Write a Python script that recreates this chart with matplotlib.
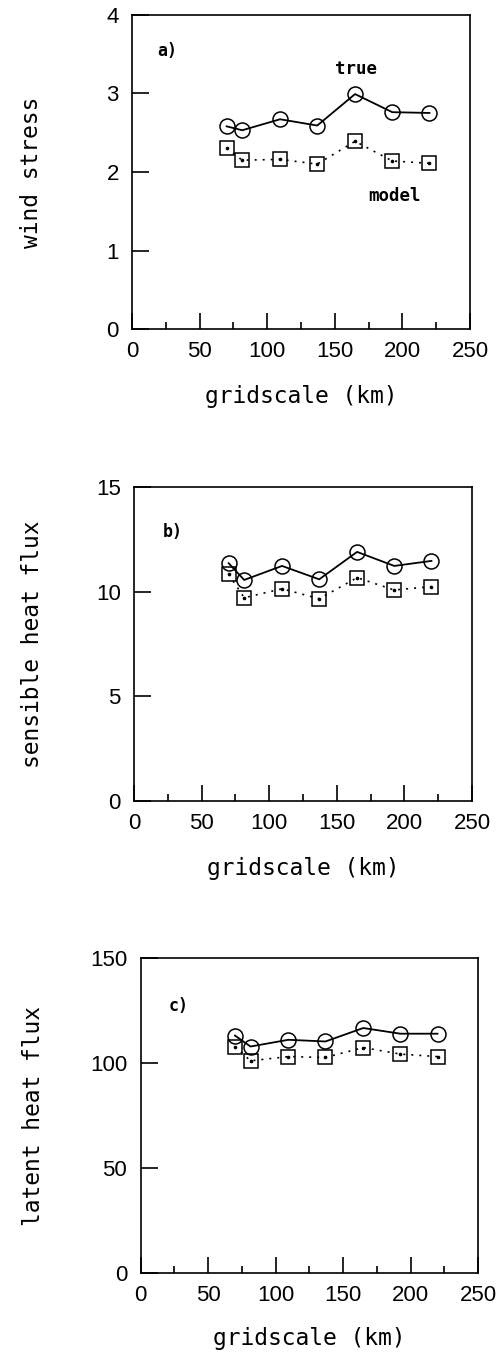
import matplotlib
matplotlib.use("Agg")
import matplotlib.pyplot as plt
from matplotlib import font_manager
from matplotlib.ticker import MultipleLocator

# ---------------- data ----------------
gridscale = [70, 81.5, 109.5, 137, 165, 192.5, 220]

wind_true = [2.58, 2.53, 2.67, 2.59, 2.99, 2.76, 2.75]
wind_model = [2.30, 2.15, 2.16, 2.10, 2.39, 2.14, 2.11]

sens_true = [11.36, 10.56, 11.23, 10.59, 11.90, 11.23, 11.47]
sens_model = [10.83, 9.71, 10.14, 9.66, 10.67, 10.08, 10.24]

lat_true = [113.1, 107.9, 111.1, 110.3, 116.7, 114.0, 114.0]
lat_model = [107.9, 101.1, 103.1, 102.7, 107.4, 104.3, 103.1]

panel_tags = ["a)", "b)", "c)"]
ylabels = ["wind stress", "sensible heat flux", "latent heat flux"]
xlabel = "gridscale (km)"
ylims = [4, 15, 150]
ysteps = [1, 5, 50]
xticks = [0, 50, 100, 150, 200, 250]

# ---------------- fonts ----------------
names = {f.name for f in font_manager.fontManager.ttflist}
if "Liberation Sans Narrow" in names:
    tick_font, tick_size = "Liberation Sans Narrow", 17
else:
    tick_font, tick_size = "Liberation Sans", 16
mono = "DejaVu Sans Mono"
plt.rcParams["font.family"] = ["Liberation Sans", "DejaVu Sans"]

fig = plt.figure(figsize=(5, 13.52), dpi=100)

rects = [
    (0.264, 0.7564, 0.676, 0.2328),
    (0.268, 0.4075, 0.676, 0.2323),
    (0.281, 0.0582, 0.675, 0.2332),
]
ylab_x = [-0.296, -0.299, -0.316]
xlab_y = [-0.177, -0.177, -0.170]
tag_pos = [(19, 3.54), (21.5, 12.86), (20.7, 127.1)]

series = [(wind_true, wind_model), (sens_true, sens_model), (lat_true, lat_model)]

for i, rect in enumerate(rects):
    ax = fig.add_axes(rect)
    tr, md = series[i]
    ax.plot(gridscale, md, color="black", lw=1.2, linestyle=(0, (1.2, 3.6)),
            marker="s", markersize=9.4, markerfacecolor="none",
            markeredgecolor="black", markeredgewidth=1.1)
    ax.plot(gridscale, md, linestyle="none", marker="o", markersize=1.6,
            color="black")
    ax.plot(gridscale, tr, color="black", lw=1.3, linestyle="-",
            marker="o", markersize=10.8, markerfacecolor="none",
            markeredgecolor="black", markeredgewidth=1.1)

    ax.set_xlim(0, 250)
    ax.set_ylim(0, ylims[i])
    ax.xaxis.set_minor_locator(MultipleLocator(25))
    ax.yaxis.set_major_locator(MultipleLocator(ysteps[i]))
    ax.set_xticks(xticks)
    ax.set_xticklabels([str(t) for t in xticks])

    ax.tick_params(axis="both", which="both", direction="in",
                   top=False, right=False, width=1.2)
    ax.tick_params(axis="y", which="major", length=12, pad=9.5,
                   labelsize=tick_size)
    ax.tick_params(axis="x", which="major", length=11.5, pad=8.5,
                   labelsize=tick_size)
    ax.tick_params(axis="x", which="minor", length=5.4)
    for lab in ax.get_xticklabels() + ax.get_yticklabels():
        lab.set_fontfamily([tick_font, "DejaVu Sans"])

    for sp in ax.spines.values():
        sp.set_linewidth(1.2)

    ax.set_ylabel(ylabels[i], fontsize=16.5, va="center", family=[mono])
    ax.yaxis.set_label_coords(ylab_x[i], 0.5)
    ax.set_xlabel(xlabel, fontsize=16.5, family=[mono])
    ax.xaxis.set_label_coords(0.5, xlab_y[i])

    ax.text(tag_pos[i][0], tag_pos[i][1], panel_tags[i], fontsize=12,
            fontweight="bold", ha="left", va="center", family=[mono])

    if i == 0:
        ax.text(166, 3.31, "true", fontsize=12.5, fontweight="bold",
                ha="center", va="center", family=[mono])
        ax.text(194, 1.70, "model", fontsize=12.5, fontweight="bold",
                ha="center", va="center", family=[mono])

fig.savefig("out.png", dpi=100)
